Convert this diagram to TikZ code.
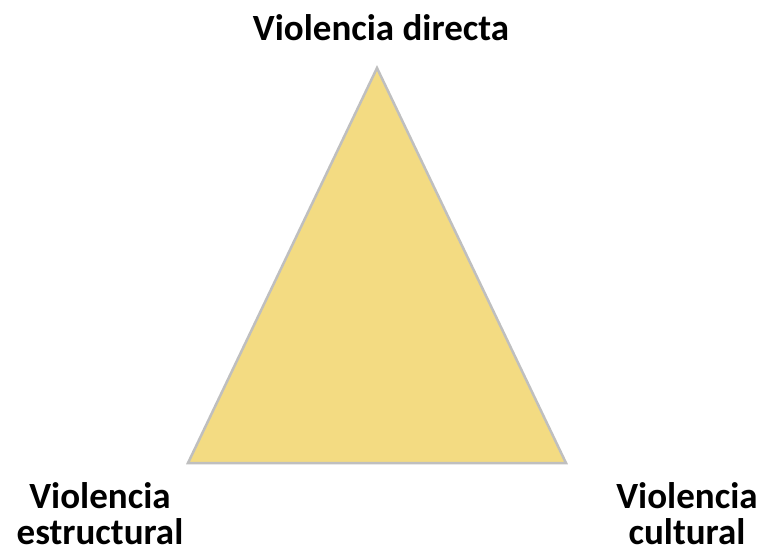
\documentclass[tikz,border=0pt]{standalone}
\usepackage{fontspec}
\setmainfont{Carlito}
\usetikzlibrary{positioning}

\definecolor{triyellow}{HTML}{F3DB82}
\definecolor{trigray}{HTML}{BFBFBF}

\begin{document}
\begin{tikzpicture}[x=1pt,y=-1pt,
	label text/.style={font=\fontsize{37}{36}\selectfont\bfseries, inner sep=0pt, align=center}]
	\useasboundingbox (0,0) rectangle (764,554);
	\coordinate (apex) at (377,68);
	\coordinate (left) at (188,463);
	\coordinate (right) at (566,463);
	\filldraw[fill=triyellow, draw=trigray, line width=2.5pt, line join=miter] (apex) -- (right) -- (left) -- cycle;
	\node[label text, anchor=base] (directa) at (381,40) {Violencia directa};
	\node[label text] (estructural) at (100,514) {Violencia\\estructural};
	\node[label text] (cultural) at (687,514) {Violencia\\cultural};
\end{tikzpicture}
\end{document}
